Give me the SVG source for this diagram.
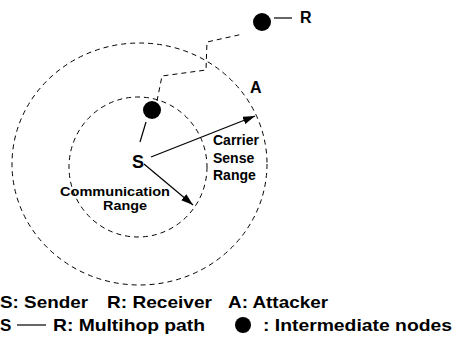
<svg xmlns="http://www.w3.org/2000/svg" width="454" height="339" viewBox="0 0 454 339">
<defs>
<style>
.dash{fill:none;stroke:#000;stroke-width:1;stroke-dasharray:5,4}
.ln{fill:none;stroke:#000;stroke-width:1.2}
.node{fill:#000}
text{font-family:"Liberation Sans",Arial,Helvetica,sans-serif;font-weight:bold;fill:#000}
.lbl{font-size:14px}
.lbl2{font-size:12.5px}
.leg{font-size:17px}
</style>
<marker id="ah" viewBox="0 0 12 8" refX="12" refY="4" markerWidth="12" markerHeight="8" markerUnits="userSpaceOnUse" orient="auto">
<path d="M0,0 L12,4 L0,8 Z" fill="#000"/>
</marker>
</defs>
<rect width="454" height="339" fill="#fff"/>
<g id="ranges">
<ellipse class="dash" cx="139.5" cy="164" rx="127.5" ry="121"/>
<ellipse class="dash" cx="138" cy="167" rx="69" ry="70"/>
</g>
<g id="connectors">
<path class="dash" d="M157,101 L162,76 L206,70 L207,42 L243,34"/>
<line class="ln" x1="146" y1="122" x2="140" y2="142"/>
<line class="ln" x1="151" y1="157" x2="255" y2="116" marker-end="url(#ah)"/>
<line class="ln" x1="144" y1="164" x2="193" y2="205" marker-end="url(#ah)"/>
<line class="ln" x1="274" y1="18" x2="292" y2="18"/>
</g>
<g id="node-R">
<circle class="node" cx="262" cy="22" r="9"/>
<text x="300" y="23" font-size="16">R</text>
</g>
<g id="node-intermediate">
<circle class="node" cx="152" cy="110" r="9"/>
</g>
<g id="node-S">
<text x="132" y="168" font-size="18">S</text>
</g>
<g id="node-A">
<text x="250" y="93" font-size="16">A</text>
</g>
<g id="label-carrier">
<text class="lbl" x="213" y="145">Carrier</text>
<text class="lbl" x="213" y="163">Sense</text>
<text class="lbl" x="213" y="180">Range</text>
</g>
<g id="label-comm">
<text class="lbl2" x="60" y="196" textLength="110" lengthAdjust="spacingAndGlyphs">Communication</text>
<text class="lbl2" x="103" y="210" textLength="44" lengthAdjust="spacingAndGlyphs">Range</text>
</g>
<g id="legend">
<text class="leg" x="0" y="308" textLength="88" lengthAdjust="spacingAndGlyphs">S: Sender</text>
<text class="leg" x="107" y="308" textLength="105" lengthAdjust="spacingAndGlyphs">R: Receiver</text>
<text class="leg" x="228" y="308" textLength="100" lengthAdjust="spacingAndGlyphs">A: Attacker</text>
<text class="leg" x="0" y="331">S</text>
<line class="ln" x1="17" y1="325" x2="46" y2="325"/>
<text class="leg" x="53" y="331" textLength="152" lengthAdjust="spacingAndGlyphs">R: Multihop path</text>
<circle class="node" cx="243" cy="325" r="8"/>
<text class="leg" x="263" y="331" textLength="189" lengthAdjust="spacingAndGlyphs">: Intermediate nodes</text>
</g>
</svg>
